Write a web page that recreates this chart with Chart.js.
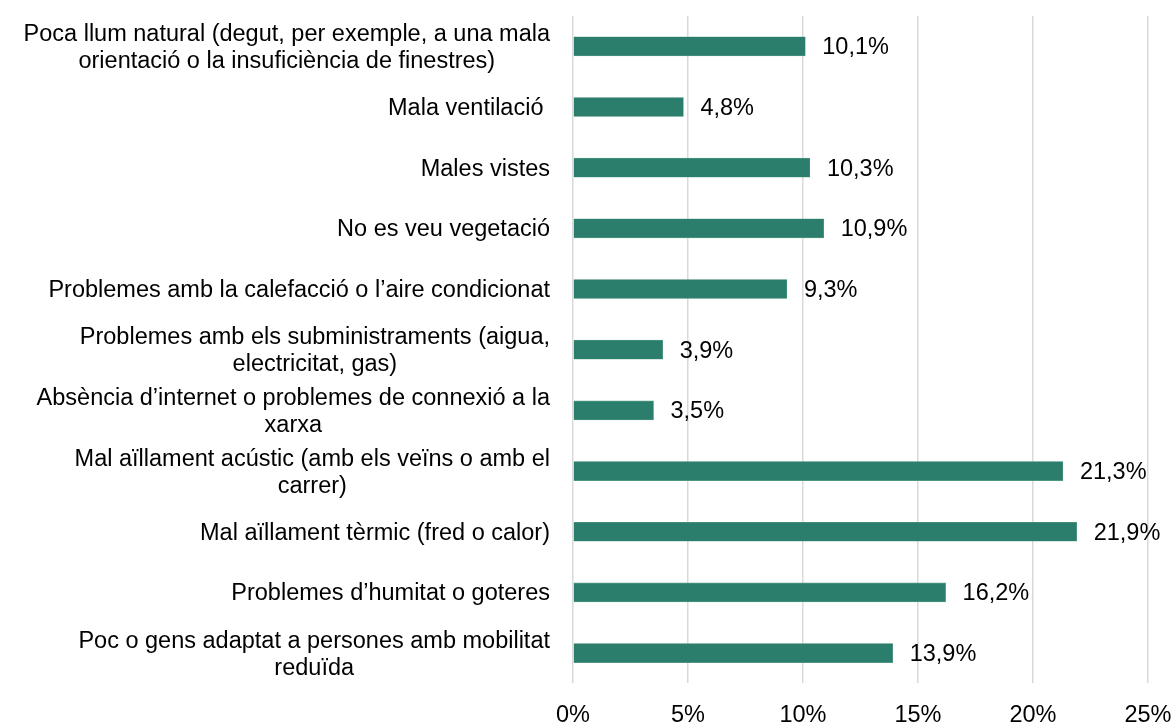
<!DOCTYPE html>
<html>
<head>
<meta charset="utf-8">
<script src="https://cdn.jsdelivr.net/npm/chart.js@4"></script>
<style>
    html, body { margin: 0; padding: 0; background: #fff; }
    #wrap { width: 1172px; height: 722px; }
</style>
</head>
<body>
<div id="wrap"><canvas id="chart"></canvas></div>
<script>
// Categories (one array entry per line of the label)
const categories = [
    ['Poca llum natural (degut, per exemple, a una mala', 'orientació o la insuficiència de finestres)'],
    ['Mala ventilació '],
    ['Males vistes'],
    ['No es veu vegetació'],
    ['Problemes amb la calefacció o l\u2019aire condicionat'],
    ['Problemes amb els subministraments (aigua,', 'electricitat, gas)'],
    ['Absència d\u2019internet o problemes de connexió a la', 'xarxa'],
    ['Mal aïllament acústic (amb els veïns o amb el', 'carrer)'],
    ['Mal aïllament tèrmic (fred o calor)'],
    ['Problemes d\u2019humitat o goteres'],
    ['Poc o gens adaptat a persones amb mobilitat', 'reduïda']
];
const values = [10.1, 4.8, 10.3, 10.9, 9.3, 3.9, 3.5, 21.3, 21.9, 16.2, 13.9];
const xTicks = [0, 5, 10, 15, 20, 25];

const FONT = '"Liberation Sans", Arial, sans-serif';
const FONT_SIZE = 23.5;
const fmt = v => v.toFixed(1).replace('.', ',') + '%';

// category labels: block right-aligned to the axis, lines centred inside the block
const categoryLabels = {
    id: 'categoryLabels',
    afterDraw(chart) {
        const ctx = chart.ctx;
        const yScale = chart.scales.y;
        const right = chart.chartArea.left - 23;
        const lineH = 27;
        ctx.save();
        ctx.font = FONT_SIZE + 'px ' + FONT;
        ctx.fillStyle = '#000';
        ctx.textAlign = 'center';
        ctx.textBaseline = 'middle';
        categories.forEach((lines, i) => {
            const cy = yScale.getPixelForValue(i) + 1.5;
            const w = Math.max(...lines.map(l => ctx.measureText(l).width));
            const cx = right - w / 2;
            const y0 = cy - (lines.length - 1) * lineH / 2;
            lines.forEach((l, k) => ctx.fillText(l, cx, y0 + k * lineH));
        });
        ctx.restore();
    }
};

// value label after the end of each bar
const valueLabels = {
    id: 'valueLabels',
    afterDatasetsDraw(chart) {
        const ctx = chart.ctx;
        const meta = chart.getDatasetMeta(0);
        ctx.save();
        ctx.font = FONT_SIZE + 'px ' + FONT;
        ctx.fillStyle = '#000';
        ctx.textAlign = 'left';
        ctx.textBaseline = 'middle';
        meta.data.forEach((bar, i) => {
            ctx.fillText(fmt(values[i]), bar.x + 17, bar.y + 1.5);
        });
        ctx.restore();
    }
};

new Chart(document.getElementById('chart'), {
    type: 'bar',
    data: {
        labels: categories.map(c => c.join(' ')),
        datasets: [{
            data: values,
            backgroundColor: '#2b7e6b',
            borderColor: '#5c9e8c',
            borderWidth: 0.6,
            barThickness: 19
        }]
    },
    options: {
        indexAxis: 'y',
        responsive: true,
        maintainAspectRatio: false,
        animation: false,
        layout: { padding: { top: 16, right: 24, left: 0, bottom: 0 } },
        plugins: {
            legend: { display: false },
            tooltip: { enabled: false }
        },
        scales: {
            x: {
                min: 0,
                max: 25,
                afterBuildTicks: scale => {
                    scale.ticks = xTicks.map(v => ({ value: v }));
                },
                afterFit: scale => {
                    scale.height = 38.6;
                    scale.paddingLeft = 0;
                    scale.paddingRight = 0;
                },
                grid: { color: '#d9d9d9', lineWidth: 1.5, drawTicks: false },
                border: { display: false },
                ticks: {
                    padding: 18,
                    color: '#000',
                    font: { family: FONT, size: FONT_SIZE },
                    callback: v => v + '%'
                }
            },
            y: {
                afterFit: scale => { scale.width = 573; },
                grid: { display: false },
                border: { display: false },
                ticks: { display: false }
            }
        }
    },
    plugins: [categoryLabels, valueLabels]
});
</script>
</body>
</html>
